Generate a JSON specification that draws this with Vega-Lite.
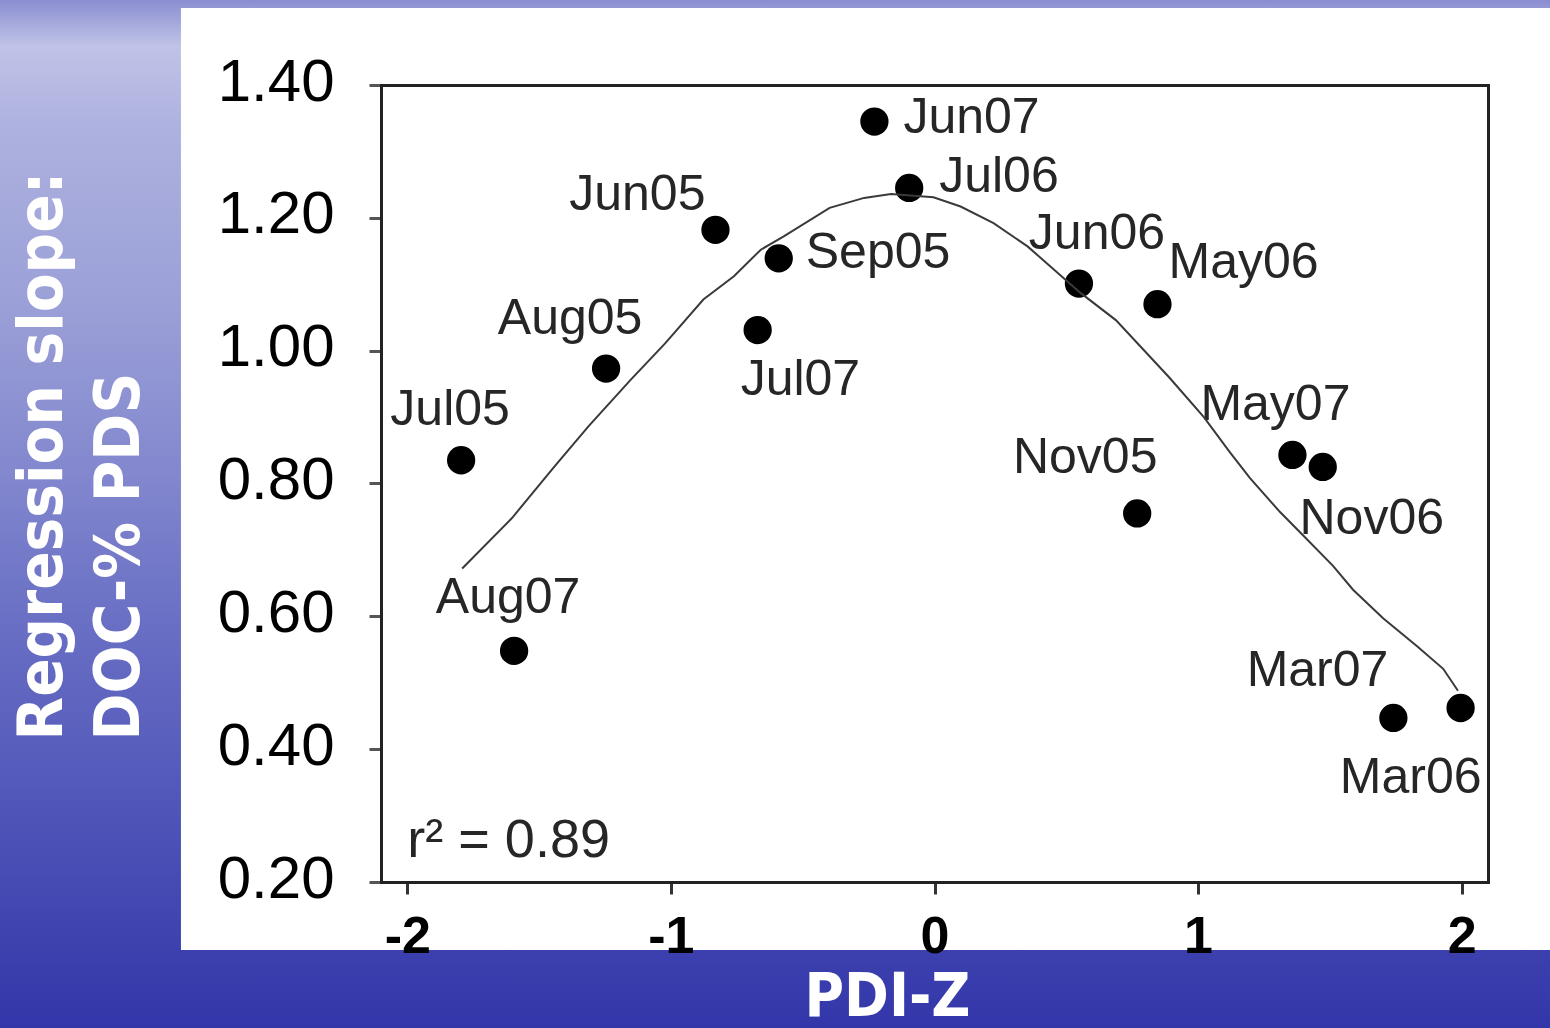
{
  "$schema": "https://vega.github.io/schema/vega-lite/v6.json",
  "width": 1107,
  "height": 797,
  "autosize": {"type": "none"},
  "padding": {"left": 381, "top": 85, "right": 62, "bottom": 146},
  "background": "#4a4fb8",
  "config": {
    "view": {"stroke": null},
    "axis": {"zindex": 1, "grid": false, "domainColor": "#222222", "domainWidth": 3, "domainCap": "square"},
    "text": {"font": "Liberation Sans", "fontSize": 50, "color": "#262626"}
  },
  "datasets": {
    "backdrop": [{"x": -3.546, "x2": 2.34, "y": -0.02, "y2": 1.528}],
    "panel": [{"x": -2.859, "x2": 2.34, "y": 0.0976, "y2": 1.5159}],
    "curve": [
      {"x": -1.792, "y": 0.672}, {"x": -1.603, "y": 0.748}, {"x": -1.443, "y": 0.825},
      {"x": -1.313, "y": 0.886}, {"x": -1.153, "y": 0.956}, {"x": -1.022, "y": 1.011},
      {"x": -0.877, "y": 1.077}, {"x": -0.761, "y": 1.112}, {"x": -0.659, "y": 1.152},
      {"x": -0.572, "y": 1.172}, {"x": -0.398, "y": 1.215}, {"x": -0.267, "y": 1.23},
      {"x": -0.165, "y": 1.236}, {"x": -0.004, "y": 1.231}, {"x": 0.099, "y": 1.217},
      {"x": 0.224, "y": 1.192}, {"x": 0.353, "y": 1.157}, {"x": 0.554, "y": 1.087},
      {"x": 0.688, "y": 1.046}, {"x": 0.89, "y": 0.96}, {"x": 1.022, "y": 0.9},
      {"x": 1.121, "y": 0.847}, {"x": 1.197, "y": 0.808}, {"x": 1.311, "y": 0.757},
      {"x": 1.398, "y": 0.722}, {"x": 1.512, "y": 0.676}, {"x": 1.588, "y": 0.64},
      {"x": 1.702, "y": 0.597}, {"x": 1.831, "y": 0.555}, {"x": 1.93, "y": 0.521},
      {"x": 1.986, "y": 0.488}
    ],
    "samples": [
      {"month": "Jul05", "x": -1.796, "y": 0.835},
      {"month": "Aug05", "x": -1.246, "y": 0.973},
      {"month": "Sep05", "x": -0.591, "y": 1.139},
      {"month": "Nov05", "x": 0.769, "y": 0.755},
      {"month": "Mar06", "x": 1.996, "y": 0.462},
      {"month": "May06", "x": 0.846, "y": 1.07},
      {"month": "Jun06", "x": 0.548, "y": 1.101},
      {"month": "Jul06", "x": -0.096, "y": 1.245},
      {"month": "Nov06", "x": 1.473, "y": 0.825},
      {"month": "Mar07", "x": 1.741, "y": 0.447},
      {"month": "May07", "x": 1.358, "y": 0.843},
      {"month": "Jun07", "x": -0.228, "y": 1.345},
      {"month": "Jul07", "x": -0.671, "y": 1.031},
      {"month": "Aug07", "x": -1.595, "y": 0.548},
      {"month": "Jun05", "x": -0.831, "y": 1.182}
    ]
  },
  "layer": [
    {
      "layer": [
        {
          "data": {"name": "backdrop"},
          "mark": {
            "type": "rect",
            "clip": false,
            "fill": {
              "gradient": "linear", "x1": 0, "y1": 0, "x2": 0, "y2": 1,
              "stops": [
                {"offset": 0, "color": "#8a8ed0"},
                {"offset": 0.045, "color": "#c0c3e7"},
                {"offset": 0.12, "color": "#aeb2df"},
                {"offset": 0.3, "color": "#9a9fd7"},
                {"offset": 0.45, "color": "#8489cf"},
                {"offset": 0.6, "color": "#6a70c4"},
                {"offset": 0.75, "color": "#555bbb"},
                {"offset": 0.9, "color": "#4044b0"},
                {"offset": 1, "color": "#3236a9"}
              ]
            }
          },
          "encoding": {
            "x": {
              "field": "x", "type": "quantitative",
              "scale": {"domain": [-2.1, 2.1], "nice": false, "zero": false},
              "axis": {
                "orient": "bottom", "zindex": 2,
                "values": [-2, -1, 0, 1, 2],
                "labelExpr": "datum.value < 0 ? '-' + abs(datum.value) : '' + datum.value",
                "labelFont": "Liberation Sans", "labelFontWeight": "bold", "labelFontSize": 52,
                "labelColor": "#000000", "labelPadding": 17, "labelFlush": false, "labelOverlap": false,
                "tickSize": 12, "tickWidth": 3, "tickColor": "#333333",
                "title": "PDI-Z",
                "titleFont": "DejaVu Sans Condensed, DejaVu Sans", "titleFontWeight": "bold",
                "titleFontSize": 60, "titleColor": "#ffffff",
                "titleX": 506, "titleY": 133, "titleAlign": "center", "titleBaseline": "alphabetic"
              }
            },
            "x2": {"field": "x2"},
            "y": {
              "field": "y", "type": "quantitative",
              "scale": {"domain": [0.2, 1.4], "nice": false, "zero": false},
              "axis": {
                "orient": "left", "zindex": 2,
                "values": [0.2, 0.4, 0.6, 0.8, 1.0, 1.2, 1.4],
                "format": ".2f",
                "labelFont": "Liberation Sans", "labelFontSize": 60, "labelColor": "#000000",
                "labelPadding": 35, "labelBaseline": "middle", "labelOffset": -3,
                "labelFlush": false, "labelOverlap": false,
                "tickSize": 12, "tickWidth": 3, "tickColor": "#555555",
                "title": ["Regression slope:", "DOC-% PDS"],
                "titleFont": "DejaVu Sans Condensed, DejaVu Sans", "titleFontWeight": "bold",
                "titleFontSize": 63, "titleLineHeight": 77, "titleColor": "#ffffff",
                "titleAngle": 270, "titleAlign": "left", "titleBaseline": "top",
                "titleX": -370, "titleY": 655
              }
            },
            "y2": {"field": "y2"}
          }
        },
        {
          "data": {"name": "panel"},
          "mark": {"type": "rect", "clip": false, "fill": "#ffffff"},
          "encoding": {
            "x": {"field": "x", "type": "quantitative"},
            "x2": {"field": "x2"},
            "y": {"field": "y", "type": "quantitative"},
            "y2": {"field": "y2"}
          }
        },
        {
          "data": {"name": "samples"},
          "encoding": {
            "x": {"field": "x", "type": "quantitative"},
            "y": {"field": "y", "type": "quantitative"}
          },
          "layer": [
            {"mark": {"type": "circle", "size": 800, "color": "#000000", "opacity": 1}},
            {"transform": [{"filter": "datum.month == 'Jun07'"}], "mark": {"type": "text", "align": "left", "baseline": "alphabetic", "dx": 29, "dy": 11}, "encoding": {"text": {"field": "month"}}},
            {"transform": [{"filter": "datum.month == 'Jul06'"}], "mark": {"type": "text", "align": "left", "baseline": "alphabetic", "dx": 30, "dy": 4}, "encoding": {"text": {"field": "month"}}},
            {"transform": [{"filter": "datum.month == 'Jun05'"}], "mark": {"type": "text", "align": "right", "baseline": "alphabetic", "dx": -10, "dy": -20}, "encoding": {"text": {"field": "month"}}},
            {"transform": [{"filter": "datum.month == 'Sep05'"}], "mark": {"type": "text", "align": "left", "baseline": "alphabetic", "dx": 27, "dy": 10}, "encoding": {"text": {"field": "month"}}},
            {"transform": [{"filter": "datum.month == 'Aug05'"}], "mark": {"type": "text", "align": "center", "baseline": "alphabetic", "dx": -36, "dy": -35}, "encoding": {"text": {"field": "month"}}},
            {"transform": [{"filter": "datum.month == 'Jul07'"}], "mark": {"type": "text", "align": "left", "baseline": "alphabetic", "dx": -17, "dy": 65}, "encoding": {"text": {"field": "month"}}},
            {"transform": [{"filter": "datum.month == 'Jul05'"}], "mark": {"type": "text", "align": "center", "baseline": "alphabetic", "dx": -11, "dy": -35}, "encoding": {"text": {"field": "month"}}},
            {"transform": [{"filter": "datum.month == 'Aug07'"}], "mark": {"type": "text", "align": "center", "baseline": "alphabetic", "dx": -6, "dy": -38}, "encoding": {"text": {"field": "month"}}},
            {"transform": [{"filter": "datum.month == 'Jun06'"}], "mark": {"type": "text", "align": "center", "baseline": "alphabetic", "dx": 18, "dy": -35}, "encoding": {"text": {"field": "month"}}},
            {"transform": [{"filter": "datum.month == 'May06'"}], "mark": {"type": "text", "align": "left", "baseline": "alphabetic", "dx": 11, "dy": -26}, "encoding": {"text": {"field": "month"}}},
            {"transform": [{"filter": "datum.month == 'May07'"}], "mark": {"type": "text", "align": "center", "baseline": "alphabetic", "dx": -17, "dy": -35}, "encoding": {"text": {"field": "month"}}},
            {"transform": [{"filter": "datum.month == 'Nov05'"}], "mark": {"type": "text", "align": "center", "baseline": "alphabetic", "dx": -52, "dy": -40}, "encoding": {"text": {"field": "month"}}},
            {"transform": [{"filter": "datum.month == 'Nov06'"}], "mark": {"type": "text", "align": "center", "baseline": "alphabetic", "dx": 49, "dy": 67}, "encoding": {"text": {"field": "month"}}},
            {"transform": [{"filter": "datum.month == 'Mar07'"}], "mark": {"type": "text", "align": "right", "baseline": "alphabetic", "dx": -5, "dy": -32}, "encoding": {"text": {"field": "month"}}},
            {"transform": [{"filter": "datum.month == 'Mar06'"}], "mark": {"type": "text", "align": "right", "baseline": "alphabetic", "dx": 21, "dy": 85}, "encoding": {"text": {"field": "month"}}}
          ]
        },
        {
          "data": {"values": [{"note": "r² = 0.89"}]},
          "mark": {"type": "text", "align": "left", "baseline": "alphabetic", "fontSize": 54},
          "encoding": {
            "x": {"datum": -2.0, "type": "quantitative"},
            "y": {"datum": 0.238, "type": "quantitative"},
            "text": {"field": "note"}
          }
        }
      ]
    },
    {
      "data": {"name": "curve"},
      "mark": {"type": "line", "color": "#3a3a3a", "strokeWidth": 2},
      "encoding": {
        "x": {
          "field": "x", "type": "quantitative",
          "scale": {"domain": [-2.1, 2.1], "nice": false, "zero": false},
          "axis": {"orient": "top", "zindex": 2, "labels": false, "ticks": false, "title": null}
        },
        "y": {
          "field": "y", "type": "quantitative",
          "scale": {"domain": [0.2, 1.4], "nice": false, "zero": false},
          "axis": {"orient": "right", "zindex": 2, "labels": false, "ticks": false, "title": null}
        }
      }
    }
  ],
  "resolve": {"axis": {"x": "independent", "y": "independent"}}
}
